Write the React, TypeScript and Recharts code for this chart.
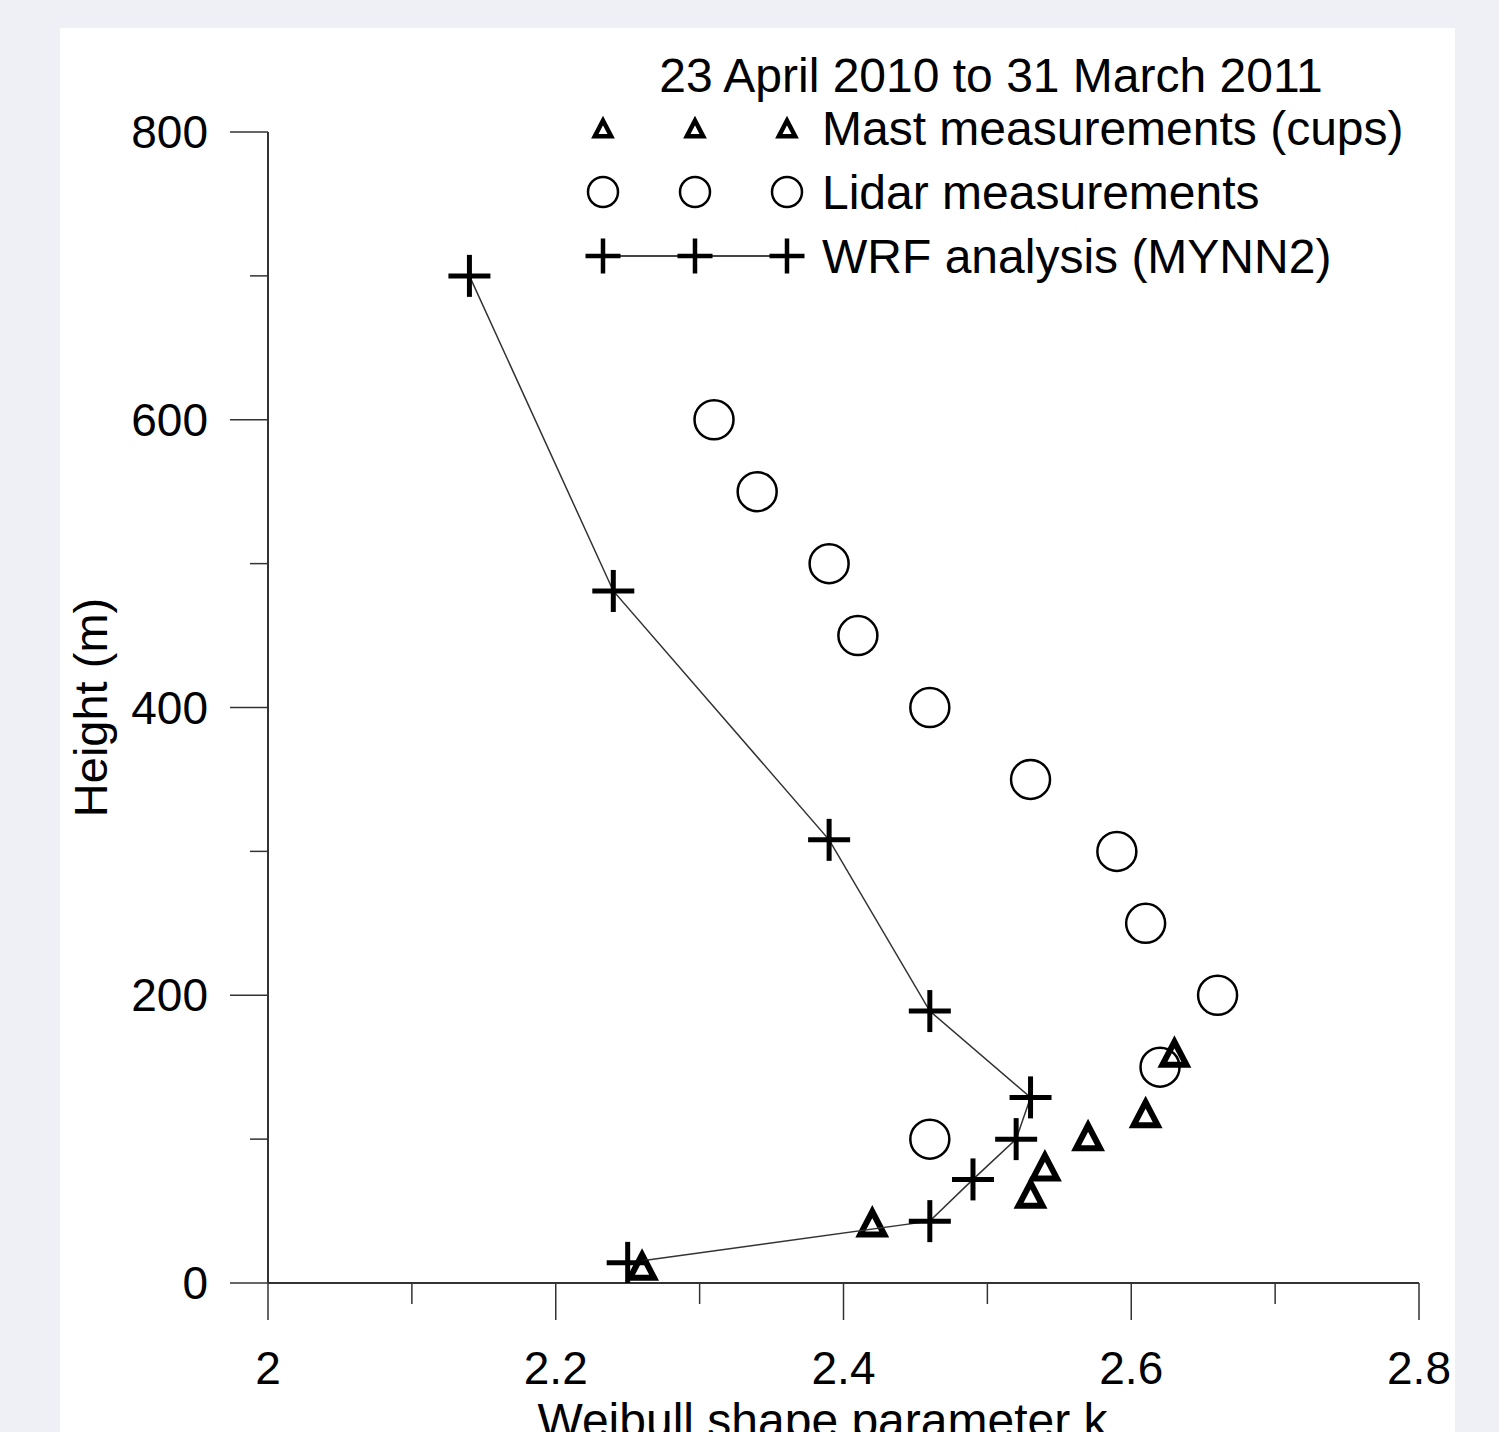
import React from 'react';
import { ScatterChart, Scatter, XAxis, YAxis, Legend } from 'recharts';

const chartTitle = '23 April 2010 to 31 March 2011';
const seriesNames = ['Mast measurements (cups)', 'Lidar measurements', 'WRF analysis (MYNN2)'];

// Mast measurements (cups)
const mastK = [2.26, 2.42, 2.53, 2.54, 2.57, 2.61, 2.63];
const mastHeight = [12, 42, 62, 81, 102, 118, 160];

// Lidar measurements
const lidarK = [2.46, 2.62, 2.66, 2.61, 2.59, 2.53, 2.46, 2.41, 2.39, 2.34, 2.31];
const lidarHeight = [100, 150, 200, 250, 300, 350, 400, 450, 500, 550, 600];

// WRF analysis (MYNN2)
const wrfK = [2.14, 2.24, 2.39, 2.46, 2.53, 2.52, 2.49, 2.46, 2.25];
const wrfHeight = [700, 481, 308, 189, 129, 100, 72, 43, 14];

const xTicks = [2, 2.1, 2.2, 2.3, 2.4, 2.5, 2.6, 2.7, 2.8];
const yTicks = [0, 100, 200, 300, 400, 500, 600, 700, 800];

const toPoints = (xs: number[], ys: number[]) => xs.map((k, i) => ({ k, h: ys[i] }));

const FONT = '"Liberation Sans", Arial, sans-serif';
const INK = '#000';
const AXIS = '#333';

const Triangle = ({ cx, cy, s = 1, sw = 6 }: any) => (
  <path
    d={`M${cx},${cy - 11 * s} L${cx - 12 * s},${cy + 12 * s} L${cx + 12 * s},${cy + 12 * s} Z`}
    fill="none"
    stroke={INK}
    strokeWidth={sw}
    strokeLinejoin="miter"
  />
);

const Circle = ({ cx, cy, r = 19.5 }: any) => (
  <circle cx={cx} cy={cy} r={r} fill="none" stroke={INK} strokeWidth={2.5} />
);

const Cross = ({ cx, cy, r = 21, sw = 5 }: any) => (
  <g>
    <line x1={cx - r} x2={cx + r} y1={cy} y2={cy} stroke={INK} strokeWidth={sw} />
    <line x1={cx} x2={cx} y1={cy - r} y2={cy + r} stroke={INK} strokeWidth={sw} />
  </g>
);

const XTick = ({ x, y, payload }: any) => {
  const major = Math.round(payload.value * 10) % 2 === 0;
  return (
    <g>
      <line x1={x} x2={x} y1={y} y2={y + (major ? 37 : 21)} stroke={AXIS} strokeWidth={1.5} />
      {major && (
        <text x={x} y={y + 85} textAnchor="middle" dominantBaseline="central" fontFamily={FONT} fontSize={46} fill={INK}>
          {payload.value}
        </text>
      )}
    </g>
  );
};

const YTick = ({ x, y, payload }: any) => {
  const major = payload.value % 200 === 0;
  return (
    <g>
      <line x1={x - (major ? 38 : 18)} x2={x} y1={y} y2={y} stroke={AXIS} strokeWidth={1.5} />
      {major && (
        <text x={x - 60} y={y} textAnchor="end" dominantBaseline="central" fontFamily={FONT} fontSize={46} fill={INK}>
          {payload.value}
        </text>
      )}
    </g>
  );
};

const LegendBox = ({ payload }: any) => {
  const items = seriesNames.filter((n) => (payload || []).some((p: any) => p.value === n));
  const symX = [43, 135, 227];
  const rowY = [88, 152, 216];
  return (
    <svg width={880} height={260} style={{ overflow: 'visible' }}>
      <text x={431} y={35} textAnchor="middle" dominantBaseline="central" fontFamily={FONT} fontSize={48} fill={INK}>
        {chartTitle}
      </text>
      {items.map((name: string, i: number) => (
        <g key={name}>
          {i === 2 && <line x1={symX[0]} x2={symX[2]} y1={rowY[i]} y2={rowY[i]} stroke="#444" strokeWidth={2} />}
          {symX.map((sx) =>
            i === 0 ? (
              <Triangle key={sx} cx={sx} cy={rowY[i]} s={0.68} sw={4.5} />
            ) : i === 1 ? (
              <Circle key={sx} cx={sx} cy={rowY[i]} r={15} />
            ) : (
              <Cross key={sx} cx={sx} cy={rowY[i]} r={17.5} sw={4.5} />
            )
          )}
          <text x={262} y={rowY[i]} dominantBaseline="central" fontFamily={FONT} fontSize={48} fill={INK}>
            {name}
          </text>
        </g>
      ))}
    </svg>
  );
};

export default function App() {
  return (
    <div style={{ position: 'relative', width: 1499, height: 1432, background: '#eef0f5', overflow: 'hidden' }}>
      <style>{'body{margin:0;background:#eef0f5}'}</style>
      <div style={{ position: 'absolute', left: 60, top: 28, width: 1395, height: 1404, background: '#fff' }}>
        <ScatterChart width={1395} height={1404} margin={{ top: 104, right: 36, bottom: 0, left: 0 }}>
          <XAxis
            type="number"
            dataKey="k"
            domain={[2, 2.8]}
            ticks={xTicks}
            interval={0}
            height={149}
            tickSize={0}
            tickMargin={0}
            tick={<XTick />}
            axisLine={{ stroke: AXIS, strokeWidth: 2 }}
            allowDataOverflow
            label={{ value: 'Weibull shape parameter k', position: 'insideBottom', offset: -5, dx: -21, fontFamily: FONT, fontSize: 48, fill: INK }}
          />
          <YAxis
            type="number"
            dataKey="h"
            domain={[0, 800]}
            ticks={yTicks}
            interval={0}
            width={208}
            tickSize={0}
            tickMargin={0}
            tick={<YTick />}
            axisLine={{ stroke: AXIS, strokeWidth: 2 }}
            allowDataOverflow
            label={{ value: 'Height (m)', angle: -90, position: 'insideLeft', offset: 30, textAnchor: 'middle', fontFamily: FONT, fontSize: 47, fill: INK }}
          />
          <Legend
            layout="horizontal"
            verticalAlign="middle"
            align="center"
            content={<LegendBox />}
            wrapperStyle={{ left: 500, top: 12, width: 880, height: 260 }}
          />
          <Scatter
            name={seriesNames[0]}
            data={toPoints(mastK, mastHeight)}
            shape={(p: any) => <Triangle cx={p.cx} cy={p.cy} />}
            isAnimationActive={false}
          />
          <Scatter
            name={seriesNames[1]}
            data={toPoints(lidarK, lidarHeight)}
            shape={(p: any) => <Circle cx={p.cx} cy={p.cy} />}
            isAnimationActive={false}
          />
          <Scatter
            name={seriesNames[2]}
            data={toPoints(wrfK, wrfHeight)}
            line={{ stroke: '#333', strokeWidth: 1.5 }}
            lineType="joint"
            shape={(p: any) => <Cross cx={p.cx} cy={p.cy} />}
            isAnimationActive={false}
          />
        </ScatterChart>
      </div>
    </div>
  );
}
